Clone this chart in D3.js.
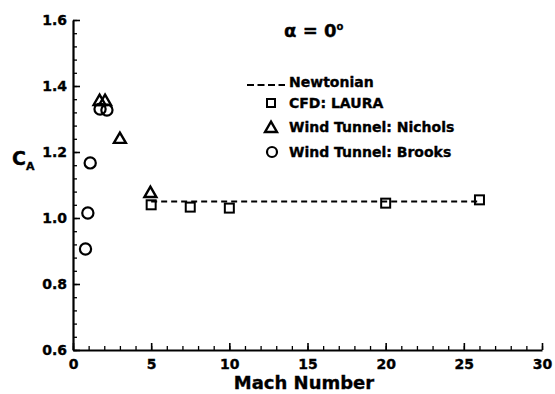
<!DOCTYPE html>
<html>
<head>
<meta charset="utf-8">
<script src="https://cdn.jsdelivr.net/npm/d3@7.9.0/dist/d3.min.js"></script>
<style>
  body { margin: 0; background: #fff; }
  svg { display: block; }
  text { font-family: "DejaVu Sans", sans-serif; font-weight: bold; fill: #000; stroke: #000; stroke-width: 0.35px; }
</style>
</head>
<body>
<div id="chart"></div>
<script>
// CFD: LAURA (squares)
const lauraMach = [5, 7.5, 10, 20, 26];
const lauraCA = [1.04, 1.033, 1.03, 1.045, 1.055];

// Wind Tunnel: Nichols (triangles)
const nicholsMach = [1.7, 2.05, 3.0, 4.95];
const nicholsCA = [1.353, 1.353, 1.238, 1.074];

// Wind Tunnel: Brooks (circles)
const brooksMach = [0.8, 0.95, 1.1, 1.73, 2.17];
const brooksCA = [0.906, 1.015, 1.167, 1.33, 1.327];

// Newtonian (dashed line)
const newtonMach = [5, 26];
const newtonCA = [1.05, 1.05];

const xTicks = [0, 5, 10, 15, 20, 25, 30];
const yTicks = [0.6, 0.8, 1.0, 1.2, 1.4, 1.6];

const width = 555;
const height = 394;

const x = d3.scaleLinear().domain([0, 30]).range([73, 542]);
const y = d3.scaleLinear().domain([0.6, 1.6]).range([350, 20]);

const svg = d3.select("#chart")
  .append("svg")
  .attr("width", width)
  .attr("height", height);

// minor ticks first
svg.append("g")
  .attr("transform", `translate(0,${y(0.6)})`)
  .call(d3.axisBottom(x).tickValues(d3.range(0, 31, 1)).tickSize(-4).tickSizeOuter(0).tickFormat(""))
  .call(g => g.select(".domain").remove())
  .call(g => g.selectAll("line").attr("stroke-width", 1.3));

svg.append("g")
  .attr("transform", `translate(${x(0)},0)`)
  .call(d3.axisLeft(y).tickValues(d3.range(0.6, 1.601, 0.04)).tickSize(-4).tickSizeOuter(0).tickFormat(""))
  .call(g => g.select(".domain").remove())
  .call(g => g.selectAll("line").attr("stroke-width", 1.3));

// major axes
const xAxis = svg.append("g")
  .attr("transform", `translate(0,${y(0.6)})`)
  .call(d3.axisBottom(x).tickValues(xTicks).tickSize(-7).tickSizeOuter(0).tickPadding(9).tickFormat(d3.format("d")));

const yAxis = svg.append("g")
  .attr("transform", `translate(${x(0)},0)`)
  .call(d3.axisLeft(y).tickValues(yTicks).tickSize(-7).tickSizeOuter(0).tickPadding(6).tickFormat(d3.format(".1f")));

[xAxis, yAxis].forEach(g => {
  g.select(".domain").attr("stroke-width", 2.2);
  g.selectAll(".tick line").attr("stroke-width", 1.6);
  g.selectAll(".tick text")
    .style("font-family", "'DejaVu Sans', sans-serif")
    .style("font-weight", "bold")
    .style("font-size", "14px")
    .attr("fill", "#000");
});

// axis titles
svg.append("text")
  .attr("x", 304)
  .attr("y", 389)
  .attr("text-anchor", "middle")
  .style("font-size", "18px")
  .text("Mach Number");

const ca = svg.append("text")
  .attr("x", 12)
  .attr("y", 165)
  .style("font-size", "19px");
ca.append("tspan").text("C");
ca.append("tspan").attr("dy", 5).style("font-size", "11px").text("A");

// title
const title = svg.append("text")
  .attr("x", 284)
  .attr("y", 37)
  .style("font-size", "18px");
title.append("tspan").text("α");
title.append("tspan").text(" = 0");
title.append("tspan").attr("dy", -7).style("font-size", "10px").text("o");

// Newtonian line
const line = d3.line().x((d, i) => x(newtonMach[i])).y((d, i) => y(newtonCA[i]));
svg.append("path")
  .attr("d", line(newtonMach))
  .attr("fill", "none")
  .attr("stroke", "#000")
  .attr("stroke-width", 1.8)
  .attr("stroke-dasharray", "6,4");

const sq = 9;
const tri = d3.symbol().type(d3.symbolTriangle).size(62);

// LAURA squares
svg.append("g").selectAll("rect")
  .data(lauraMach)
  .join("rect")
  .attr("x", (d) => x(d) - sq / 2)
  .attr("y", (d, i) => y(lauraCA[i]) - sq / 2)
  .attr("width", sq)
  .attr("height", sq)
  .attr("fill", "none")
  .attr("stroke", "#000")
  .attr("stroke-width", 2);

// Nichols triangles
svg.append("g").selectAll("path")
  .data(nicholsMach)
  .join("path")
  .attr("d", tri)
  .attr("transform", (d, i) => `translate(${x(d)},${y(nicholsCA[i])})`)
  .attr("fill", "none")
  .attr("stroke", "#000")
  .attr("stroke-width", 2.4);

// Brooks circles
svg.append("g").selectAll("circle")
  .data(brooksMach)
  .join("circle")
  .attr("cx", (d) => x(d))
  .attr("cy", (d, i) => y(brooksCA[i]))
  .attr("r", 5.6)
  .attr("fill", "none")
  .attr("stroke", "#000")
  .attr("stroke-width", 2.2);

// legend
const legendNames = ["Newtonian", "CFD: LAURA", "Wind Tunnel: Nichols", "Wind Tunnel: Brooks"];
const legendY = [87, 108, 132, 157];
const lg = svg.append("g");

lg.selectAll("text")
  .data(legendNames)
  .join("text")
  .attr("x", 289)
  .attr("y", (d, i) => legendY[i])
  .style("font-size", "14px")
  .text((d) => d);

lg.append("line")
  .attr("x1", 247).attr("x2", 285)
  .attr("y1", 85).attr("y2", 85)
  .attr("stroke", "#000")
  .attr("stroke-width", 1.8)
  .attr("stroke-dasharray", "7,3.5");

lg.append("rect")
  .attr("x", 267).attr("y", 99)
  .attr("width", 8).attr("height", 8)
  .attr("fill", "none").attr("stroke", "#000").attr("stroke-width", 2);

lg.append("path")
  .attr("d", tri)
  .attr("transform", "translate(271,128.5)")
  .attr("fill", "none").attr("stroke", "#000").attr("stroke-width", 2.4);

lg.append("circle")
  .attr("cx", 272).attr("cy", 152).attr("r", 5)
  .attr("fill", "none").attr("stroke", "#000").attr("stroke-width", 2.2);
</script>
</body>
</html>
